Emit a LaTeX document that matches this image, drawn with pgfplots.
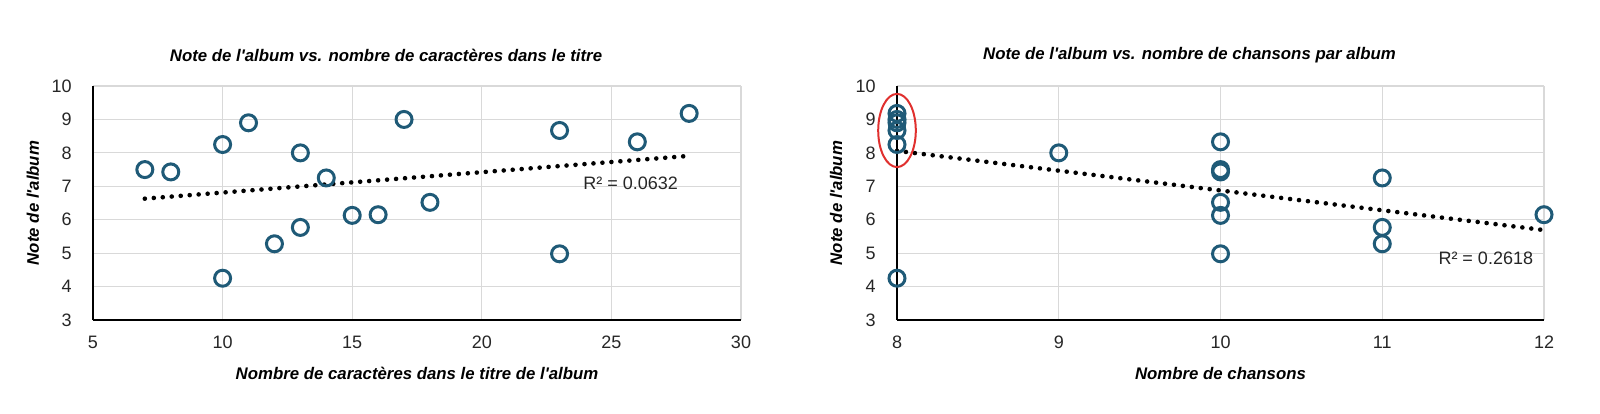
\documentclass[border=0pt]{standalone}
\usepackage{fontspec}
\setmainfont{Liberation Sans}
\usepackage{pgfplots}
\pgfplotsset{compat=1.18}
\definecolor{markc}{HTML}{1F5A77}
\definecolor{gridc}{HTML}{D9D9D9}
\definecolor{ellc}{HTML}{E0302E}
\newcommand{\lblfont}{\fontsize{8.4}{10}\selectfont\bfseries\itshape}
\newcommand{\ap}{\textquotesingle}
\pgfplotsset{
  myax/.style={
    scale only axis, anchor=south west,
    height=117pt,
    ymin=3, ymax=10, ytick={3,4,...,10},
    /pgf/number format/assume math mode=true,
    axis x line*=bottom, axis y line*=left,
    axis line style={-, black, line width=1pt},
    grid=major,
    major grid style={gridc, line width=0.6pt},
    major tick length=0pt, tick style={draw=none},
    ticklabel style={font=\fontsize{9}{10}\selectfont, text=black!85},
    yticklabel style={anchor=east, inner sep=0pt, xshift=-10.5pt},
    xticklabel style={anchor=north, inner sep=0pt, yshift=-8pt},
    label style={font=\lblfont},
    clip=false,
  },
  pts/.style={only marks, mark=o, mark size=4pt, mark options={line width=1.5pt, draw=markc}},
  trend/.style={black, line width=2.3pt, dash pattern=on 0pt off 4.5pt, line cap=round},
}
\begin{document}
\begin{tikzpicture}[x=1pt,y=1pt]
\node[font=\lblfont] at (193,179) {Note de l\ap album vs. nombre de caractères dans le titre};
\node[font=\lblfont] at (594.75,179) {Note de l\ap album vs. nombre de chansons par album};
\begin{axis}[myax, at={(46.5pt,46.5pt)}, width=324pt,
  xmin=5, xmax=30, xtick={5,10,...,30},
  xlabel={Nombre de caractères dans le titre de l\ap album},
  ylabel={Note de l\ap album},
  xlabel style={at={(axis description cs:0.5,-0.2265)}, anchor=center},
  ylabel style={at={(axis description cs:-0.0926,0.5)}, anchor=center, rotate=0},
]
\addplot[trend] coordinates {(7,6.63) (28,7.91)};
\addplot[pts] coordinates {
(7,7.50) (8,7.43) (10,8.25) (10,4.25) (11,8.90) (12,5.28) (13,8.00) (13,5.77)
(14,7.25) (15,6.13) (16,6.15) (17,9.00) (18,6.52) (23,8.67) (23,4.98) (26,8.33) (28,9.18)};
\node[font=\fontsize{9}{10}\selectfont, text=black!85] at (axis cs:25.74,7.1) {R² = 0.0632};
\end{axis}
\begin{axis}[myax, at={(448.5pt,46.5pt)}, width=323.5pt,
  xmin=8, xmax=12, xtick={8,9,...,12},
  xlabel={Nombre de chansons},
  ylabel={Note de l\ap album},
  xlabel style={at={(axis description cs:0.5,-0.2265)}, anchor=center},
  ylabel style={at={(axis description cs:-0.0943,0.5)}, anchor=center, rotate=0},
]
\addplot[trend] coordinates {(8,8.06) (12,5.69)};
\addplot[pts] coordinates {
(8,9.18) (8,9.00) (8,8.90) (8,8.67) (8,8.25) (8,4.25)
(9,8.00)
(10,8.33) (10,7.50) (10,7.43) (10,6.52) (10,6.13) (10,4.98)
(11,7.25) (11,5.77) (11,5.28)
(12,6.15)};
\draw[ellc, line width=1pt] (axis cs:8,8.67) ellipse [x radius=9.4pt, y radius=18.3pt];
\node[font=\fontsize{9}{10}\selectfont, text=black!85] at (axis cs:11.64,4.855) {R² = 0.2618};
\end{axis}
\pgfresetboundingbox
\useasboundingbox (0,0) rectangle (800,206.5);
\end{tikzpicture}
\end{document}
